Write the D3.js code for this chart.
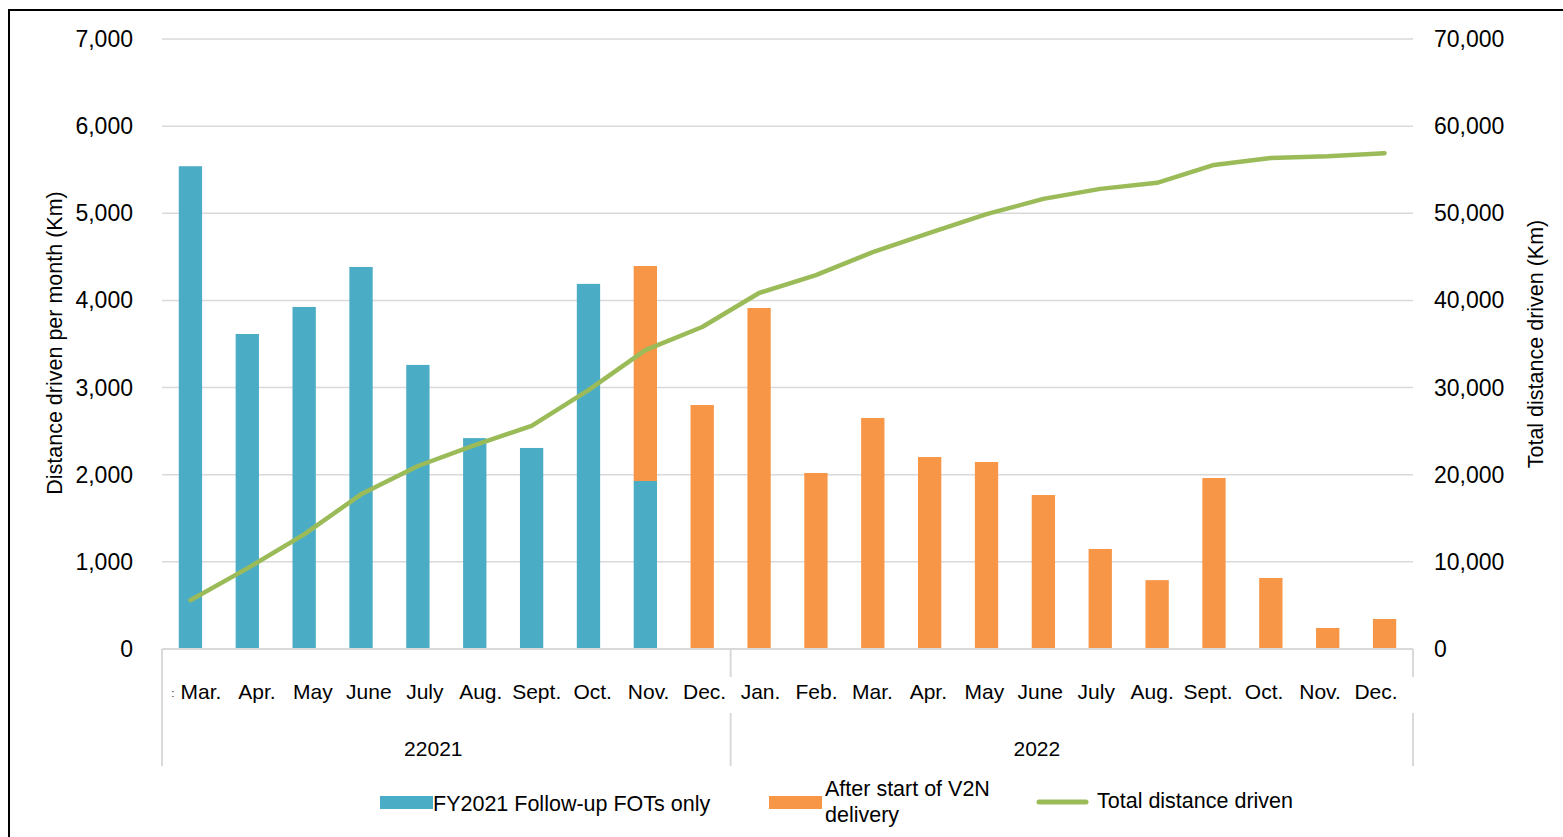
<!DOCTYPE html>
<html>
<head>
<meta charset="utf-8">
<script src="https://cdn.jsdelivr.net/npm/d3@7"></script>
<style>
  body { margin: 0; background: #fff; }
  text { font-family: Arial, "Liberation Sans", sans-serif; fill: #000; }
</style>
</head>
<body>
<script>
// month labels, Mar. 2021 .. Dec. 2022
var months = ["Mar.", "Apr.", "May", "June", "July", "Aug.", "Sept.", "Oct.", "Nov.", "Dec.",
              "Jan.", "Feb.", "Mar.", "Apr.", "May", "June", "July", "Aug.", "Sept.", "Oct.", "Nov.", "Dec."];
var yearLabels = ["22021", "2022"];
var yearCounts = [10, 12];

// distance per month (Km)
var fotsOnly = [5540, 3615, 3925, 4384, 3260, 2420, 2307, 4190, 1928, 0, 0, 0, 0, 0, 0, 0, 0, 0, 0, 0, 0, 0];
var afterV2N = [0, 0, 0, 0, 0, 0, 0, 0, 2467, 2800, 3913, 2020, 2651, 2203, 2146, 1767, 1148, 790, 1962, 815, 241, 344];
// cumulative distance (Km)
var totalDist = [5600, 9250, 13150, 17750, 21000, 23400, 25600, 29700, 34300, 36950, 40850, 42900,
                 45550, 47750, 49900, 51650, 52800, 53500, 55550, 56350, 56550, 56900];

var leftTicks = [0, 1000, 2000, 3000, 4000, 5000, 6000, 7000];
var rightTicks = [0, 10000, 20000, 30000, 40000, 50000, 60000, 70000];

var w = 1563, h = 837;
var blue = "#4BACC6", orange = "#F79646", green = "#9BBB59", grid = "#D9D9D9";

var svg = d3.select("body").append("svg")
    .attr("width", w)
    .attr("height", h);

// outer frame
svg.append("rect")
    .attr("x", 9).attr("y", 10)
    .attr("width", 1700).attr("height", 1000)
    .attr("fill", "none")
    .attr("stroke", "#000")
    .attr("stroke-width", 2);

var idx = d3.range(months.length);
var x = d3.scaleBand().domain(idx).range([162, 1413]).paddingInner(0.59).paddingOuter(0.295);
var yL = d3.scaleLinear().domain([0, 7000]).range([649, 39]);
var yR = d3.scaleLinear().domain([0, 70000]).range([649, 39]);
// excel squeezes the month labels a little
var xLab = d3.scalePoint().domain(idx).range([201, 1376]);

// gridlines
svg.append("g").selectAll("line")
    .data(leftTicks.slice(1))
    .enter().append("line")
    .attr("x1", 162).attr("x2", 1413)
    .attr("y1", function (d) { return yL(d); })
    .attr("y2", function (d) { return yL(d); })
    .attr("stroke", grid)
    .attr("stroke-width", 1.5);

// left tick labels
svg.append("g").selectAll("text")
    .data(leftTicks)
    .enter().append("text")
    .attr("x", 133)
    .attr("y", function (d) { return yL(d); })
    .attr("dy", "0.35em")
    .attr("text-anchor", "end")
    .attr("font-size", "23px")
    .text(d3.format(","));

// right tick labels
svg.append("g").selectAll("text")
    .data(rightTicks)
    .enter().append("text")
    .attr("x", 1434)
    .attr("y", function (d) { return yR(d); })
    .attr("dy", "0.35em")
    .attr("text-anchor", "start")
    .attr("font-size", "23px")
    .text(d3.format(","));

// bars - blue part
svg.append("g").selectAll("rect")
    .data(idx.filter(function (i) { return fotsOnly[i] > 0; }))
    .enter().append("rect")
    .attr("x", function (i) { return x(i); })
    .attr("width", x.bandwidth())
    .attr("y", function (i) { return yL(fotsOnly[i]); })
    .attr("height", function (i) { return yL(0) - yL(fotsOnly[i]); })
    .attr("fill", blue);

// bars - orange part stacked on top
svg.append("g").selectAll("rect")
    .data(idx.filter(function (i) { return afterV2N[i] > 0; }))
    .enter().append("rect")
    .attr("x", function (i) { return x(i); })
    .attr("width", x.bandwidth())
    .attr("y", function (i) { return yL(fotsOnly[i] + afterV2N[i]); })
    .attr("height", function (i) { return yL(fotsOnly[i]) - yL(fotsOnly[i] + afterV2N[i]); })
    .attr("fill", orange);

// x axis line
svg.append("line")
    .attr("x1", 162).attr("x2", 1413)
    .attr("y1", 649).attr("y2", 649)
    .attr("stroke", grid).attr("stroke-width", 2);

// group divider ticks
var bounds = [0, yearCounts[0], months.length];
var bx = function (k) { return x(0) - x.step() * x.paddingOuter() + k * x.step(); };
svg.append("line")
    .attr("x1", bx(0)).attr("x2", bx(0))
    .attr("y1", 649).attr("y2", 766)
    .attr("stroke", grid).attr("stroke-width", 2);
bounds.slice(1).forEach(function (k) {
    svg.append("line")
        .attr("x1", bx(k)).attr("x2", bx(k))
        .attr("y1", 649).attr("y2", 677)
        .attr("stroke", grid).attr("stroke-width", 2);
    svg.append("line")
        .attr("x1", bx(k)).attr("x2", bx(k))
        .attr("y1", 713).attr("y2", 766)
        .attr("stroke", grid).attr("stroke-width", 2);
});

// month labels
svg.append("g").selectAll("text")
    .data(idx)
    .enter().append("text")
    .attr("x", function (i) { return xLab(i); })
    .attr("y", 699)
    .attr("text-anchor", "middle")
    .attr("font-size", "21px")
    .text(function (i) { return months[i]; });

// stray mark left of the first label
svg.append("text")
    .attr("x", 173).attr("y", 697)
    .attr("text-anchor", "middle")
    .attr("font-size", "10px")
    .text(":");

// year labels (the original sits a bit left of each group's middle)
var yearShift = [-13, -35];
yearLabels.forEach(function (lab, j) {
    svg.append("text")
        .attr("x", (bx(bounds[j]) + bx(bounds[j + 1])) / 2 + yearShift[j])
        .attr("y", 756)
        .attr("text-anchor", "middle")
        .attr("font-size", "21px")
        .text(lab);
});

// cumulative line
var line = d3.line()
    .x(function (d, i) { return x(i) + x.bandwidth() / 2; })
    .y(function (d) { return yR(d); });
svg.append("path")
    .datum(totalDist)
    .attr("d", line)
    .attr("fill", "none")
    .attr("stroke", green)
    .attr("stroke-width", 4.5)
    .attr("stroke-linecap", "round")
    .attr("stroke-linejoin", "round");

// axis titles
svg.append("text")
    .attr("transform", "translate(62,343) rotate(-90)")
    .attr("text-anchor", "middle")
    .attr("font-size", "21.5px")
    .text("Distance driven per month (Km)");
svg.append("text")
    .attr("transform", "translate(1543,344) rotate(-90)")
    .attr("text-anchor", "middle")
    .attr("font-size", "21.5px")
    .text("Total distance driven (Km)");

// legend
var leg = svg.append("g");
leg.append("rect").attr("x", 380).attr("y", 796).attr("width", 53).attr("height", 13).attr("fill", blue);
leg.append("text").attr("x", 433).attr("y", 811).attr("font-size", "21.5px").text("FY2021 Follow-up FOTs only");
leg.append("rect").attr("x", 769).attr("y", 796).attr("width", 53).attr("height", 13).attr("fill", orange);
leg.append("text").attr("x", 825).attr("y", 796).attr("font-size", "21.5px").text("After start of V2N");
leg.append("text").attr("x", 825).attr("y", 822).attr("font-size", "21.5px").text("delivery");
leg.append("line").attr("x1", 1039).attr("x2", 1086).attr("y1", 802).attr("y2", 802)
    .attr("stroke", green).attr("stroke-width", 5).attr("stroke-linecap", "round");
leg.append("text").attr("x", 1097).attr("y", 808).attr("font-size", "21.5px").text("Total distance driven");
</script>
</body>
</html>
